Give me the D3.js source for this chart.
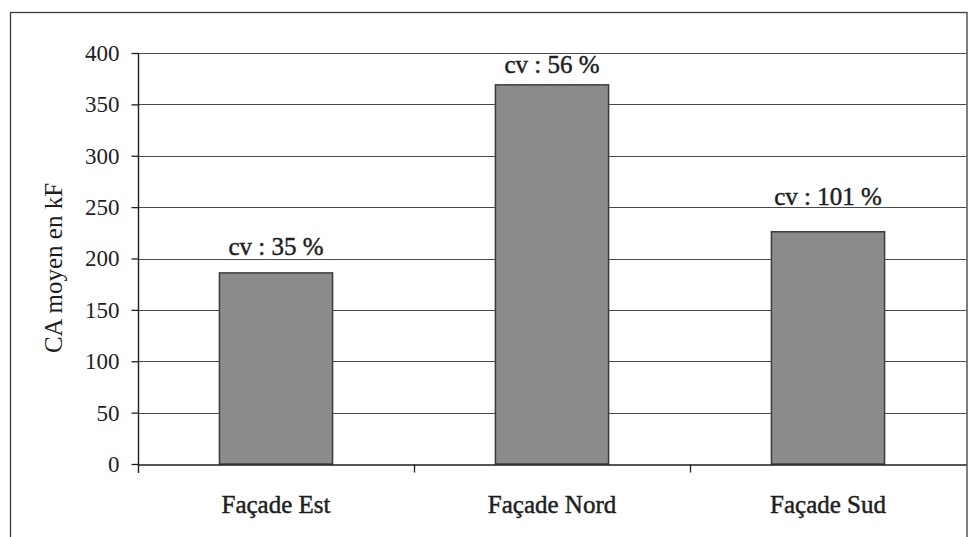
<!DOCTYPE html>
<html>
<head>
<meta charset="utf-8">
<script src="https://cdn.jsdelivr.net/npm/d3@7/dist/d3.min.js"></script>
<style>
  html, body { margin: 0; padding: 0; background: #fff; }
  svg { display: block; }
  text { font-family: "Liberation Serif", "Times New Roman", serif; fill: #1e1e1e; }
  .heavy { stroke: #1e1e1e; stroke-width: 0.45px; }
</style>
</head>
<body>
<svg id="chart" width="970" height="537"></svg>
<script>
// Mean turnover (kF) by façade orientation, with coefficient of variation
const categories = ["Façade Est", "Façade Nord", "Façade Sud"];
const meanValues = [186, 369, 226];
const cvLabels = ["cv : 35 %", "cv : 56 %", "cv : 101 %"];
const yTicks = [0, 50, 100, 150, 200, 250, 300, 350, 400];
const yTitle = "CA moyen en kF";

const svg = d3.select("#chart");
const plot = { left: 138, right: 966, top: 53, bottom: 464 };

// Outer chart frame
svg.append("rect")
  .attr("x", 10.5).attr("y", 12.5)
  .attr("width", 956.5).attr("height", 540)
  .attr("fill", "none").attr("stroke", "#3a3a3a").attr("stroke-width", 1.3);

const y = d3.scaleLinear().domain([0, 400]).range([plot.bottom, plot.top]);
const xCat = d3.scaleBand().domain(categories).range([plot.left, plot.right]).padding(0);
const xBar = d3.scaleBand().domain(categories).range([plot.left, plot.right])
  .paddingInner(0.59).paddingOuter(0.295);

// Horizontal gridlines
svg.append("g")
  .selectAll("line")
  .data(yTicks.filter(t => t > 0))
  .join("line")
  .attr("x1", plot.left).attr("x2", plot.right)
  .attr("y1", d => Math.round(y(d)) + 0.5).attr("y2", d => Math.round(y(d)) + 0.5)
  .attr("stroke", "#4a4a4a").attr("stroke-width", 1.2);

// Bars
svg.append("g")
  .selectAll("rect")
  .data(categories)
  .join("rect")
  .attr("x", d => xBar(d))
  .attr("y", (d, i) => y(meanValues[i]))
  .attr("width", xBar.bandwidth())
  .attr("height", (d, i) => y(0) - y(meanValues[i]))
  .attr("fill", "#8b8b8b")
  .attr("stroke", "#3c3c3c").attr("stroke-width", 1.5);

// Y axis
const yAxis = svg.append("g")
  .attr("transform", `translate(${plot.left + 0.5},0)`)
  .call(d3.axisLeft(y).tickValues(yTicks).tickSize(7).tickPadding(12));
yAxis.select(".domain").attr("d", `M0,${plot.top}V${plot.bottom + 9}`)
  .attr("stroke", "#1e1e1e").attr("stroke-width", 1.4);
yAxis.selectAll(".tick line").attr("stroke", "#1e1e1e").attr("stroke-width", 1.3);
yAxis.selectAll(".tick text")
  .attr("font-size", 23).attr("fill", "#1e1e1e")
  .style("font-family", "'Liberation Serif', serif");

// X axis baseline, category separator ticks and labels
const xAxis = svg.append("g")
  .attr("transform", `translate(0,${plot.bottom + 0.5})`)
  .call(d3.axisBottom(xCat).tickSize(0).tickPadding(0));
xAxis.select(".domain").attr("stroke", "#1e1e1e").attr("stroke-width", 1.4);
xAxis.selectAll(".tick text")
  .attr("class", "heavy")
  .attr("y", 48).attr("dy", 0)
  .attr("font-size", 25).attr("fill", "#1e1e1e")
  .style("font-family", "'Liberation Serif', serif");
xAxis.selectAll(".sep")
  .data(categories.slice(1))
  .join("line")
  .attr("class", "sep")
  .attr("x1", d => Math.round(xCat(d)) + 0.5).attr("x2", d => Math.round(xCat(d)) + 0.5)
  .attr("y1", 0).attr("y2", 8)
  .attr("stroke", "#1e1e1e").attr("stroke-width", 1.3);

// Coefficient-of-variation labels above each bar
const labelGap = [18, 12, 27];
svg.append("g")
  .selectAll("text")
  .data(categories)
  .join("text")
  .attr("class", "heavy")
  .attr("x", d => xBar(d) + xBar.bandwidth() / 2)
  .attr("y", (d, i) => y(meanValues[i]) - labelGap[i])
  .attr("text-anchor", "middle")
  .attr("font-size", 25)
  .text((d, i) => cvLabels[i]);

// Y axis title
svg.append("text")
  .attr("transform", "translate(62,268) rotate(-90)")
  .attr("text-anchor", "middle")
  .attr("font-size", 25)
  .text(yTitle);
</script>
</body>
</html>
